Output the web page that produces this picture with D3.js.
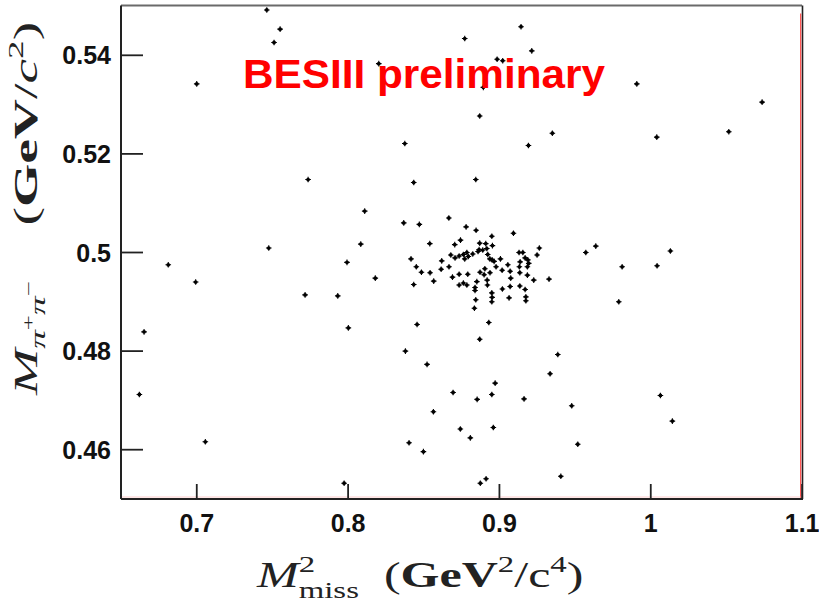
<!DOCTYPE html>
<html>
<head>
<meta charset="utf-8">
<script src="https://cdn.jsdelivr.net/npm/d3@7"></script>
<style>
  html, body { margin: 0; padding: 0; background: #fff; }
  svg { display: block; }
</style>
</head>
<body>
<svg id="chart" width="819" height="605"></svg>
<script>
// ---- data ----
const xVals = [
  0.7466, 0.7554, 0.7514, 0.7003, 0.9146, 0.8774, 0.9217, 0.8206, 0.8988, 0.9025,
  0.8897, 0.8873, 0.9353, 0.8378, 0.9195, 0.9911, 1.0739, 1.0519, 1.0043,
  0.7739, 0.7479, 0.6815, 0.6996, 0.7719, 0.7935, 0.7996, 0.8005, 0.6655,
  0.8437, 0.8847, 0.8113, 0.8371, 0.8474, 0.8669, 0.8783, 0.8849, 0.8953, 0.9096,
  0.8087, 0.8543, 0.8746, 0.8708, 0.8873, 0.8913, 0.8957, 0.9267, 0.9252, 0.9133,
  0.9158, 0.8869, 0.8920, 0.8682, 0.8710, 0.8737, 0.8765, 0.8788, 0.8798, 0.8774,
  0.8827, 0.8862, 0.8893, 0.8926, 0.8940, 0.8955, 0.8968, 0.9010, 0.9140, 0.9173,
  0.9191, 0.9197, 0.9188, 0.9135, 0.9059, 0.8981, 0.8907, 0.8875, 0.8902, 0.8941,
  0.9021, 0.9074, 0.9138, 0.9188, 0.9078, 0.9230, 0.9331, 0.8419, 0.8454, 0.8488,
  0.8545, 0.8618, 0.8622, 0.8670, 0.8693, 0.8737, 0.8794, 0.8569, 0.8437, 0.8183,
  0.8737, 0.8765, 0.8788, 0.8854, 0.8842, 0.8842, 0.8922, 0.8924, 0.8953, 0.8955,
  0.8953, 0.8847, 0.8838, 0.9023, 0.9074, 0.9138, 0.9173, 0.9178, 0.9178, 0.9067,
  0.8459, 0.8933,
  0.9640, 0.9574, 0.9814, 0.9792, 1.0045, 1.0133,
  0.6624, 0.7060, 0.7977, 0.8873, 0.8382, 0.8525, 0.9389, 0.9338, 0.8975, 0.8953,
  0.8856, 0.8697, 0.9166, 0.8567, 0.8745, 0.8811, 0.8963, 0.8406, 0.8501, 0.9409,
  0.8915, 0.8877, 0.9481, 0.9521, 1.0067, 1.0146
];
const yVals = [
  0.5491, 0.5452, 0.5425, 0.5341, 0.5457, 0.5433, 0.5408, 0.5382, 0.5391, 0.5388,
  0.5334, 0.5276, 0.5241, 0.5220, 0.5216, 0.5341, 0.5304, 0.5244, 0.5233,
  0.5147, 0.5008, 0.4974, 0.4939, 0.4913, 0.4911, 0.4979, 0.4846, 0.4838,
  0.5141, 0.5147, 0.5083, 0.5059, 0.5056, 0.5069, 0.5051, 0.5044, 0.5032, 0.5038,
  0.5016, 0.5017, 0.5024, 0.5015, 0.5018, 0.5017, 0.5013, 0.5008, 0.4994, 0.4999,
  0.4999, 0.5005, 0.5007, 0.4994, 0.4988, 0.4992, 0.4995, 0.4999, 0.4991, 0.4986,
  0.4996, 0.5001, 0.5004, 0.4995, 0.4986, 0.4984, 0.4981, 0.4986, 0.4980, 0.4988,
  0.4984, 0.4977, 0.4970, 0.4970, 0.4974, 0.4970, 0.4966, 0.4959, 0.4954, 0.4958,
  0.4963, 0.4961, 0.4958, 0.4953, 0.4947, 0.4943, 0.4945, 0.4986, 0.4970, 0.4959,
  0.4958, 0.4965, 0.4982, 0.4970, 0.4949, 0.4955, 0.4955, 0.4941, 0.4934, 0.4947,
  0.4933, 0.4937, 0.4933, 0.4940, 0.4928, 0.4922, 0.4943, 0.4933, 0.4917, 0.4908,
  0.4899, 0.4903, 0.4886, 0.4925, 0.4930, 0.4931, 0.4924, 0.4909, 0.4901, 0.4907,
  0.4853, 0.4857,
  0.5012, 0.4999, 0.4970, 0.4899, 0.4972, 0.5002,
  0.4711, 0.4615, 0.4531, 0.4823, 0.4799, 0.4772, 0.4792, 0.4753, 0.4734, 0.4711,
  0.4701, 0.4715, 0.4702, 0.4676, 0.4641, 0.4623, 0.4644, 0.4613, 0.4595, 0.4545,
  0.4540, 0.4531, 0.4688, 0.4610, 0.4709, 0.4657
];
const xTickValues = [0.7, 0.8, 0.9, 1.0, 1.1];
const xTickLabels = ["0.7", "0.8", "0.9", "1", "1.1"];
const yTickValues = [0.46, 0.48, 0.50, 0.52, 0.54];
const yTickLabels = ["0.46", "0.48", "0.5", "0.52", "0.54"];
const xDomain = [0.65, 1.1];
const yDomain = [0.45, 0.55];
const watermark = "BESIII preliminary";

// ---- layout ----
const L = 121, R = 802, T = 5.5, B = 499;
const svg = d3.select("#chart");
const x = d3.scaleLinear().domain(xDomain).range([120.6, 801.6]);
const y = d3.scaleLinear().domain(yDomain).range([498.5, 5.5]);

const points = xVals.map((v, i) => ({ x: v, y: yVals[i] }));

// points
const pg = svg.append("g");
pg.selectAll("g.pt").data(points).join("g")
  .attr("class", "pt")
  .attr("transform", d => `translate(${x(d.x)},${y(d.y)})`)
  .each(function () {
    const g = d3.select(this);
    g.append("circle").attr("r", 1.9).attr("fill", "#000");
    g.append("path").attr("d", "M-2.8,0H2.8M0,-2.8V2.8")
      .attr("stroke", "#000").attr("stroke-width", 1.1);
  });

// frame
svg.append("line").attr("x1", L).attr("x2", R).attr("y1", T).attr("y2", T)
  .attr("stroke", "#6a6a6a").attr("stroke-width", 2);
svg.append("line").attr("x1", L).attr("x2", L).attr("y1", T).attr("y2", B)
  .attr("stroke", "#222").attr("stroke-width", 2);
svg.append("line").attr("x1", L).attr("x2", R + 1).attr("y1", B).attr("y2", B)
  .attr("stroke", "#222").attr("stroke-width", 2);
svg.append("line").attr("x1", R + 0.5).attr("x2", R + 0.5).attr("y1", T).attr("y2", B)
  .attr("stroke", "#222").attr("stroke-width", 1.6);
svg.append("line").attr("x1", R - 1.3).attr("x2", R - 1.3).attr("y1", T + 8).attr("y2", B - 1)
  .attr("stroke", "#ff3030").attr("stroke-width", 1);
svg.append("line").attr("x1", L + 1).attr("x2", R - 1).attr("y1", B - 2).attr("y2", B - 2)
  .attr("stroke", "#ffb0b0").attr("stroke-width", 1).attr("opacity", 0.6);

// axes
const xAxis = d3.axisBottom(x).tickValues(xTickValues)
  .tickFormat((d, i) => xTickLabels[i]).tickSizeInner(-15).tickSizeOuter(0).tickPadding(15);
const yAxis = d3.axisLeft(y).tickValues(yTickValues)
  .tickFormat((d, i) => yTickLabels[i]).tickSizeInner(-22).tickSizeOuter(0).tickPadding(10);

const gx = svg.append("g").attr("transform", `translate(0,${B})`).call(xAxis);
const gy = svg.append("g").attr("transform", `translate(${L},0)`).call(yAxis);
[gx, gy].forEach(g => {
  g.select(".domain").remove();
  g.selectAll(".tick line").attr("stroke", "#222").attr("stroke-width", 1.8);
  g.selectAll(".tick text")
    .attr("font-family", "'Liberation Sans', Arial, sans-serif")
    .attr("font-weight", "bold").attr("font-size", 25).attr("fill", "#111");
});
gy.selectAll(".tick text").attr("dy", "0.36em");

// watermark
svg.append("text")
  .attr("x", 243).attr("y", 88)
  .attr("font-family", "'Liberation Sans', Arial, sans-serif")
  .attr("font-weight", "bold").attr("font-size", 40)
  .attr("fill", "#ff0000")
  .attr("textLength", 362).attr("lengthAdjust", "spacingAndGlyphs")
  .text(watermark);

// x title
const serif = "'Liberation Serif', 'DejaVu Serif', serif";
const xt = svg.append("text")
  .attr("font-family", serif).attr("font-size", 35).attr("fill", "#222");
xt.append("tspan").attr("font-style", "italic").text("M");
xt.append("tspan").attr("font-size", 23).attr("dy", -15).text("2");
xt.append("tspan").attr("font-size", 23).attr("dx", -11.5).attr("dy", 26).text("miss");
xt.append("tspan").attr("dy", -11).text("\u2002(");
xt.append("tspan").attr("font-weight", "bold").text("GeV");
xt.append("tspan").attr("font-size", 23).attr("dy", -15).text("2");
xt.append("tspan").attr("dy", 15).text("/c");
xt.append("tspan").attr("font-size", 23).attr("dy", -15).text("4");
xt.append("tspan").attr("dy", 15).text(")");
{
  const w = xt.node().getComputedTextLength ? xt.node().getBBox().width : 328;
  const sx = 328 / w;
  xt.attr("transform", `translate(257,587) scale(${sx},1)`);
}

// y title
const yt = svg.append("text")
  .attr("font-family", serif).attr("font-size", 33).attr("fill", "#222");
yt.append("tspan").attr("font-style", "italic").text("M");
yt.append("tspan").attr("font-style", "italic").attr("font-size", 22).attr("dy", 8).text("\u03c0");
yt.append("tspan").attr("font-size", 16).attr("dy", -11).text("+");
yt.append("tspan").attr("font-style", "italic").attr("font-size", 22).attr("dy", 11).text("\u03c0");
yt.append("tspan").attr("font-size", 16).attr("dy", -11).text("\u2212");
yt.append("tspan").attr("dy", 3).text("\u2002\u2002(");
yt.append("tspan").attr("font-weight", "bold").text("GeV");
yt.append("tspan").text("/");
yt.append("tspan").attr("font-style", "italic").text("c");
yt.append("tspan").attr("font-size", 22).attr("dy", -14).text("2");
yt.append("tspan").attr("dy", 14).text(")");
{
  const w = yt.node().getBBox().width;
  const sx = 375 / w;
  yt.attr("transform", `translate(37,395) rotate(-90) scale(${sx},1)`);
}
</script>
</body>
</html>
